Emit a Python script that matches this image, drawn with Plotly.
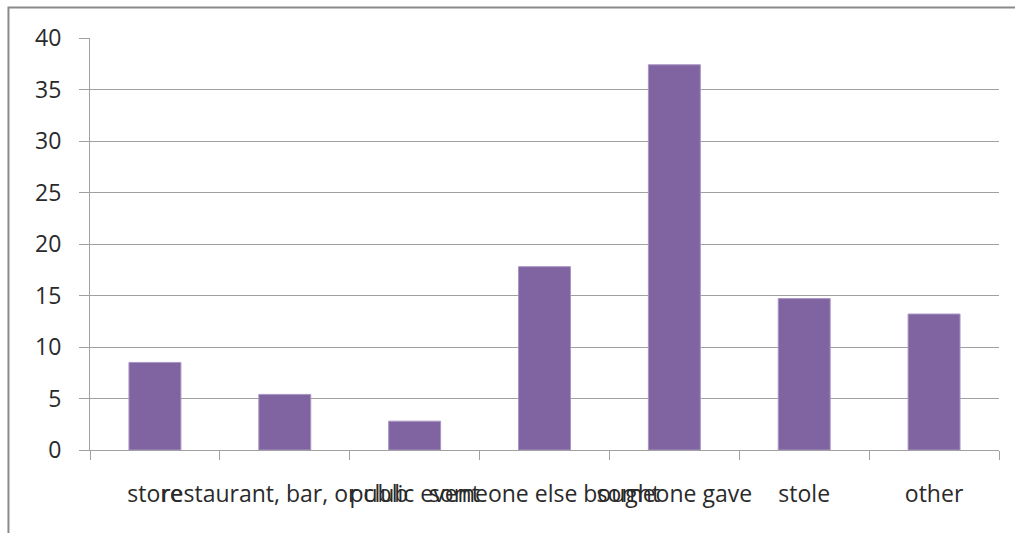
import plotly.graph_objects as go

# Sources of alcohol, percent of respondents
categories = [
    "store",
    "restaurant, bar, or club",
    "public event",
    "someone else bought",
    "someone gave",
    "stole",
    "other",
]
percent = [8.5, 5.4, 2.8, 17.8, 37.4, 14.7, 13.2]

y_ticks = [0, 5, 10, 15, 20, 25, 30, 35, 40]

FONT = "Open Sans"
TEXT = "#2a2a2a"
GRID = "#a0a0a0"

fig = go.Figure(
    go.Bar(
        x=categories,
        y=percent,
        marker=dict(color="#8064A2", line=dict(color="#a995c3", width=1)),
        hoverinfo="x+y",
    )
)

fig.update_layout(
    width=1015,
    height=533,
    margin=dict(l=90, r=16, t=38, b=83, autoexpand=False),
    paper_bgcolor="white",
    plot_bgcolor="white",
    bargap=0.6,
    showlegend=False,
    font=dict(family=FONT, size=23, color=TEXT),
)

fig.update_xaxes(
    type="category",
    tickangle=0,
    tickson="boundaries",
    ticks="outside",
    ticklen=9,
    tickcolor=GRID,
    showgrid=False,
    showline=True,
    linecolor=GRID,
    linewidth=1,
    ticklabelstandoff=23,
    tickfont=dict(family=FONT, size=23, color=TEXT),
    automargin=False,
)

fig.update_yaxes(
    range=[0, 40],
    tickvals=y_ticks,
    ticktext=[str(v) for v in y_ticks],
    ticks="outside",
    ticklen=10,
    tickcolor=GRID,
    showgrid=True,
    gridcolor=GRID,
    gridwidth=1,
    showline=True,
    linecolor=GRID,
    linewidth=1,
    zeroline=False,
    ticklabelstandoff=13,
    tickfont=dict(family=FONT, size=23, color=TEXT),
    automargin=False,
)

# Outer chart frame (extends past the right and bottom edges of the page)
fig.add_shape(
    type="rect",
    xref="paper",
    yref="paper",
    x0=-0.0897,
    x1=1.03,
    y0=-0.25,
    y1=1.074,
    line=dict(color="#8a8a8a", width=2),
    fillcolor="rgba(0,0,0,0)",
    layer="below",
)

fig.write_html("out.html")
